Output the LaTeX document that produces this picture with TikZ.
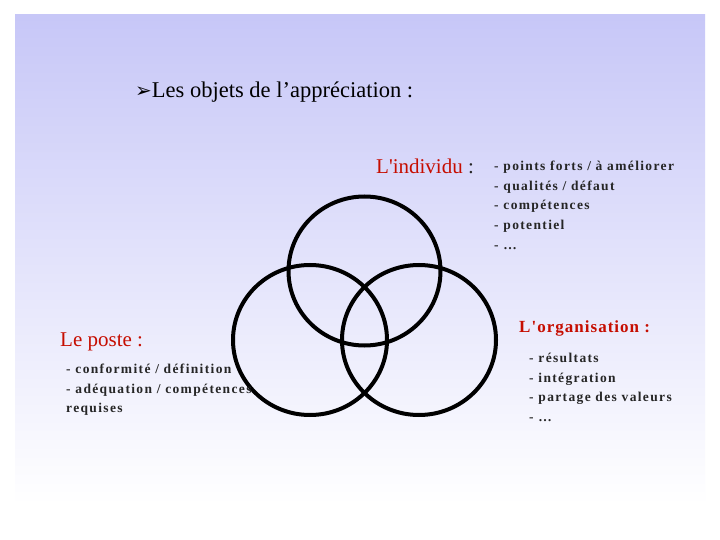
\documentclass[tikz,border=0pt]{standalone}
\usepackage{fontspec}
\setmainfont{Liberation Serif}
\newfontfamily\dejavu{DejaVu Sans}
\newfontfamily\spaced[LetterSpace=10]{Liberation Serif}
\newfontfamily\plainq[Mapping=]{Liberation Serif}
\begin{document}
\begin{tikzpicture}[x=1pt,y=-1pt,
  circ/.style={line width=4pt,draw=black},
  red/.style={text=red!75!black!90!orange, font=\plainq\fontsize{21}{24}\selectfont, anchor=west, inner sep=0},
  lst/.style={font=\spaced\fontsize{13.5}{19.6}\selectfont\bfseries, anchor=north west, align=left, inner sep=0, text=black!85}]
\useasboundingbox (0,0) rectangle (720,540);
\fill[white] (0,0) rectangle (720,540);
\shade[top color={rgb,1:red,0.78;green,0.78;blue,0.97}, bottom color=white] (15,15) rectangle (705,505);
\node[anchor=west,inner sep=0,font=\fontsize{22.5}{26}\selectfont] (title) at (135,92) {{\dejavu\fontsize{20}{24}\selectfont ➢}Les objets de l’appréciation :};
\draw[circ] (364.5,271) ellipse [x radius=76, y radius=74.5] coordinate (c1);
\draw[circ] (310,340) ellipse [x radius=77, y radius=75] coordinate (c2);
\draw[circ] (419,340) ellipse [x radius=77, y radius=75] coordinate (c3);
\node[red] (ind) at (376,166) {L'individu \textcolor{black!85}{:}};
\node[lst] (indl) at (494,161) {- points forts / à améliorer\\- qualités / défaut\\- compétences\\- potentiel\\- …};
\node[red] (poste) at (60,342) {Le poste :};
\node[lst] (postel) at (66,364) {- conformité / définition\\- adéquation / compétences\\requises};
\node[red,font=\plainq\addfontfeature{LetterSpace=6}\fontsize{17}{20}\selectfont\bfseries] (org) at (519,328) {L'organisation :};
\node[lst] (orgl) at (529,353) {- résultats\\- intégration\\- partage des valeurs\\- …};
\end{tikzpicture}
\end{document}
